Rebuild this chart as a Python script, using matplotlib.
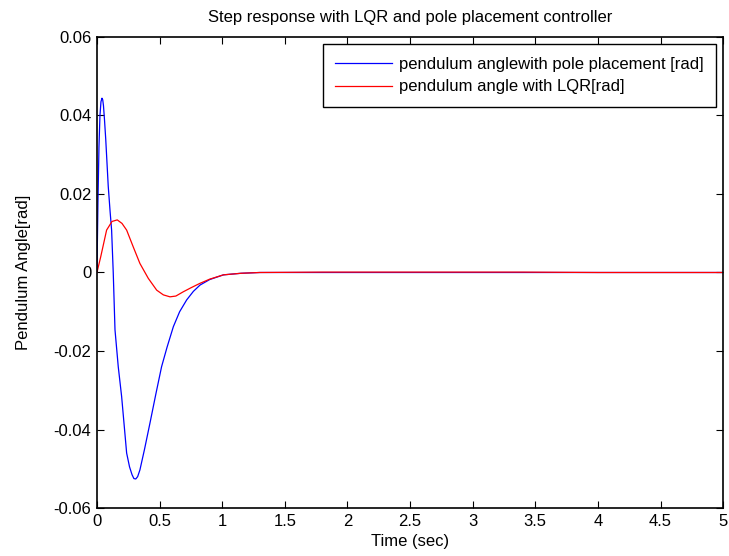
import numpy as np
import matplotlib.pyplot as plt

plt.rcParams['font.family'] = ['Liberation Sans', 'DejaVu Sans']
plt.rcParams['axes.unicode_minus'] = False

# pole placement response
t_pp = [0, 0.008, 0.016, 0.024, 0.032, 0.04, 0.046, 0.052, 0.06, 0.07, 0.08, 0.09,
        0.105, 0.117, 0.13, 0.144, 0.17, 0.197, 0.237, 0.26, 0.28, 0.295, 0.31,
        0.325, 0.343, 0.38, 0.423, 0.47, 0.516, 0.56, 0.61, 0.66, 0.716, 0.77,
        0.823, 0.9, 1.01, 1.15, 1.3, 2, 3, 4, 5]
y_pp = [0, 0.018, 0.032, 0.040, 0.0435, 0.0444, 0.0440, 0.0425, 0.0390, 0.034,
        0.028, 0.022, 0.0155, 0.0108, 0.0, -0.0146, -0.024, -0.0316, -0.046,
        -0.0495, -0.0515, -0.0525, -0.0526, -0.0520, -0.0503, -0.045, -0.0384,
        -0.031, -0.024, -0.019, -0.0138, -0.0100, -0.0070, -0.0048, -0.0032,
        -0.0018, -0.0006, -0.0002, 0, 0, 0, 0, 0]

# LQR response
t_lqr = [0, 0.03, 0.077, 0.12, 0.162, 0.2, 0.237, 0.29, 0.343, 0.41, 0.477, 0.53,
         0.583, 0.63, 0.69, 0.75, 0.82, 0.9, 1.01, 1.15, 1.3, 1.8, 2.5, 3.4, 4, 5]
y_lqr = [0, 0.004, 0.0108, 0.0130, 0.0134, 0.0125, 0.0108, 0.0065, 0.0023, -0.0015,
         -0.0045, -0.0057, -0.0062, -0.0060, -0.0049, -0.0039, -0.0028, -0.0017,
         -0.0006, -0.0002, 0, 0.0001, 0.0001, 0.0001, 0.0, 0.0]

xticks = [0, 0.5, 1, 1.5, 2, 2.5, 3, 3.5, 4, 4.5, 5]
xlabels = ['0', '0.5', '1', '1.5', '2', '2.5', '3', '3.5', '4', '4.5', '5']
yticks = [-0.06, -0.04, -0.02, 0, 0.02, 0.04, 0.06]
ylabels = ['-0.06', '-0.04', '-0.02', '0', '0.02', '0.04', '0.06']

fig = plt.figure(figsize=(7.29, 5.56), dpi=100)
ax = fig.add_axes([0.133, 0.0863, 0.859, 0.8472])

ax.plot(t_pp, y_pp, color='blue', lw=0.9, label='pendulum anglewith pole placement [rad]')
ax.plot(t_lqr, y_lqr, color='red', lw=0.9, label='pendulum angle with LQR[rad]')

ax.set_xlim(0, 5)
ax.set_ylim(-0.06, 0.06)
ax.set_xticks(xticks)
ax.set_xticklabels(xlabels)
ax.set_yticks(yticks)
ax.set_yticklabels(ylabels)
ax.tick_params(direction='in', top=True, right=True, labelsize=12, length=5, pad=4)
for s in ax.spines.values():
    s.set_linewidth(1.2)

ax.set_xlabel('Time (sec)', fontsize=12, labelpad=4)
ax.set_ylabel('Pendulum Angle[rad]', fontsize=12, labelpad=16)
ax.set_title('Step response with LQR and pole placement controller', fontsize=12, pad=11)

leg = ax.legend(loc='upper right', fontsize=12, fancybox=False, framealpha=1,
                edgecolor='black', borderaxespad=0.45, handlelength=3.4,
                handletextpad=0.4, labelspacing=0.45, borderpad=0.75)
leg.get_frame().set_linewidth(1.0)

fig.savefig('out.png', dpi=100)
